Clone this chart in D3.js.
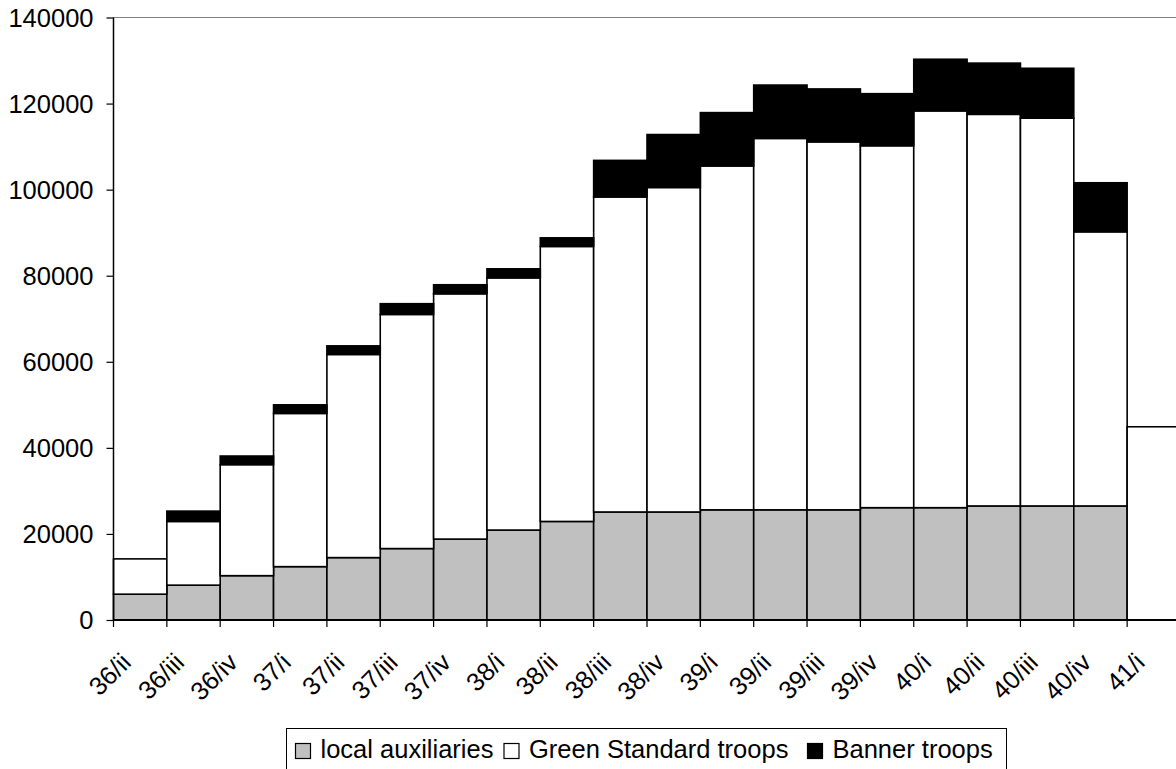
<!DOCTYPE html>
<html>
<head>
<meta charset="utf-8">
<script src="https://cdn.jsdelivr.net/npm/d3@7"></script>
<style>
  html, body { margin: 0; padding: 0; background: #fff; }
  svg { display: block; font-family: "Liberation Sans", Arial, sans-serif; }
</style>
</head>
<body>
<svg id="chart" width="1176" height="769"></svg>
<script>
const categories = ["36/ii","36/iii","36/iv","37/i","37/ii","37/iii","37/iv","38/i","38/ii","38/iii",
  "38/iv","39/i","39/ii","39/iii","39/iv","40/i","40/ii","40/iii","40/iv","41/i"];
const localAuxiliaries = [6000, 8100, 10300, 12400, 14500, 16600, 18800, 20900, 22900, 25100,
  25100, 25600, 25600, 25600, 26100, 26100, 26500, 26500, 26500, 0];
const greenStandard = [8200, 14800, 25800, 35600, 47200, 54400, 57000, 58600, 63900, 73200,
  75400, 79900, 86300, 85500, 84100, 92200, 91000, 90100, 63700, 44900];
const bannerTroops = [0, 2400, 2000, 2000, 2000, 2500, 2100, 2100, 2000, 8500,
  12300, 12400, 12400, 12300, 12100, 12000, 11900, 11600, 11400, 0];
const yTicks = [0, 20000, 40000, 60000, 80000, 100000, 120000, 140000];
const seriesNames = ["local auxiliaries", "Green Standard troops", "Banner troops"];
const seriesColors = ["#C0C0C0", "#FFFFFF", "#000000"];

(function () {
const svg = d3.select("#chart");
const plotLeft = 113.5, plotTop = 17.5, plotBottom = 620;
const bandW = 53.35;
const fs = 25.5;

const x = d3.scaleBand().domain(categories).range([plotLeft, plotLeft + bandW * categories.length]).padding(0);
const y = d3.scaleLinear().domain([0, 140000]).range([plotBottom, plotTop]);

const rows = categories.map((c, i) => ({cat: c, s0: localAuxiliaries[i], s1: greenStandard[i], s2: bannerTroops[i]}));
const stack = d3.stack().keys(["s0", "s1", "s2"]);
const layers = stack(rows);

// plot area top border
svg.append("line")
  .attr("x1", plotLeft).attr("x2", 1176).attr("y1", plotTop).attr("y2", plotTop)
  .attr("stroke", "#808080").attr("stroke-width", 1);

// bars
layers.forEach((layer, li) => {
  svg.append("g").selectAll("rect")
    .data(layer.filter(d => d[1] - d[0] > 0))
    .join("rect")
    .attr("x", d => x(d.data.cat))
    .attr("width", x.bandwidth())
    .attr("y", d => y(d[1]))
    .attr("height", d => y(d[0]) - y(d[1]))
    .attr("fill", seriesColors[li])
    .attr("stroke", "#000")
    .attr("stroke-width", 1.6);
});

// y axis
const yAxis = d3.axisLeft(y).tickValues(yTicks).tickSize(7).tickPadding(13).tickFormat(d3.format("d"));
const gy = svg.append("g").attr("transform", `translate(${plotLeft},0)`).call(yAxis);
gy.select(".domain").attr("stroke", "#000").attr("stroke-width", 1.5).attr("d", `M0,${plotBottom}V${plotTop}`);
gy.selectAll(".tick line").attr("stroke", "#000").attr("stroke-width", 1.2);
gy.selectAll(".tick text").attr("font-size", fs).attr("fill", "#000")
  .attr("font-family", "'Liberation Sans', Arial, sans-serif").attr("dy", "0.35em");

// x axis: ticks at bar boundaries
const boundaries = categories.map(c => x(c));
const gx = svg.append("g");
gx.append("line").attr("x1", plotLeft).attr("x2", 1176).attr("y1", plotBottom).attr("y2", plotBottom)
  .attr("stroke", "#000").attr("stroke-width", 2);
gx.selectAll("line.tk").data(boundaries).join("line").attr("class", "tk")
  .attr("x1", d => d).attr("x2", d => d).attr("y1", plotBottom).attr("y2", plotBottom + 7)
  .attr("stroke", "#000").attr("stroke-width", 1.2);
gx.selectAll("text").data(categories).join("text")
  .attr("transform", d => `translate(${x(d) + 19},${plotBottom + 44}) rotate(-45)`)
  .attr("text-anchor", "end")
  .attr("font-size", fs)
  .attr("fill", "#000")
  .text(d => d);

// legend
const lg = svg.append("g");
const lgTop = 728.5, lgLeft = 286.5, lgRight = 1006.5;
lg.append("rect").attr("x", lgLeft).attr("y", lgTop).attr("width", lgRight - lgLeft).attr("height", 60)
  .attr("fill", "#fff").attr("stroke", "#000").attr("stroke-width", 1);
const itemX = [295.5, 504, 807.5];
seriesNames.forEach((name, i) => {
  const cx = itemX[i];
  lg.append("rect").attr("x", cx).attr("y", 743.5).attr("width", 15).attr("height", 15)
    .attr("fill", seriesColors[i]).attr("stroke", "#000").attr("stroke-width", 1.2);
  lg.append("text").attr("x", cx + 25).attr("y", 758).attr("font-size", fs).attr("fill", "#000").text(name);
});
})();
</script>
</body>
</html>
